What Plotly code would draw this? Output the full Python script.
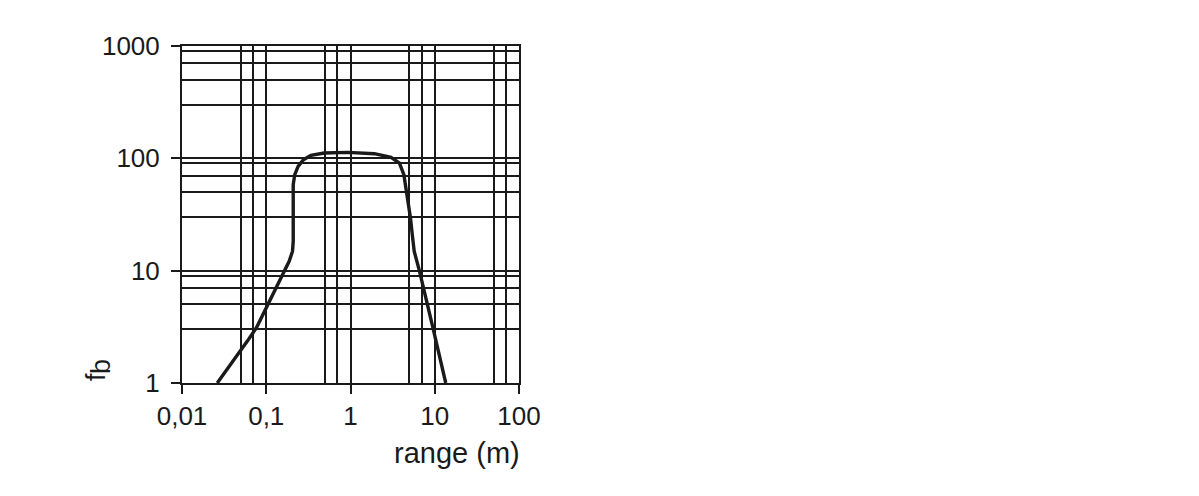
import plotly.graph_objects as go

# curve (range in m, f_b)
range_m = [0.0262, 0.0355, 0.0467, 0.0597, 0.0764, 0.0916, 0.110, 0.132, 0.158,
           0.187, 0.205, 0.209, 0.209, 0.218, 0.239, 0.277, 0.339, 0.488, 0.927,
           1.92, 3.03, 3.81, 4.30, 4.71, 5.15, 5.45, 5.7, 6.59, 8.07, 9.52, 13.5]
fb = [1, 1.37, 1.80, 2.36, 3.1, 4.08, 5.36, 7.03, 9.25,
      12.1, 14.9, 18.3, 58.4, 71.6, 84.9, 97.3, 106.4, 111.5, 113,
      110, 102, 90.8, 71.6, 47.6, 29.5, 20, 14.9, 9.9, 5.0, 3.1, 1]

x_ticks = [0.01, 0.1, 1, 10, 100]
x_ticktext = ["0,01", "0,1", "1", "10", "100"]
y_ticks = [1, 10, 100, 1000]
y_ticktext = ["1", "10", "100", "1000"]
x_minor = [0.05, 0.07, 0.5, 0.7, 5, 7, 50, 70]
y_minor = [3, 5, 7, 9, 30, 50, 70, 90, 300, 500, 700, 900]

ink = "#1a1a1a"
lw = 2

fig = go.Figure()
fig.add_trace(go.Scatter(x=range_m, y=fb, mode="lines",
                         line=dict(color=ink, width=3.4), showlegend=False))

fig.update_xaxes(type="log", range=[-2, 2],
                 tickvals=x_ticks, ticktext=x_ticktext,
                 ticks="outside", ticklen=9, tickwidth=lw, tickcolor=ink,
                 showgrid=True, gridcolor=ink, gridwidth=lw,
                 minor=dict(tickvals=x_minor, showgrid=True, gridcolor=ink,
                            gridwidth=lw, ticks=""),
                 showline=True, mirror=True, linecolor=ink, linewidth=lw,
                 zeroline=False)
fig.update_yaxes(type="log", range=[0, 3],
                 tickvals=y_ticks, ticktext=y_ticktext,
                 ticks="outside", ticklen=9, tickwidth=lw, tickcolor=ink,
                 ticklabelstandoff=6,
                 showgrid=True, gridcolor=ink, gridwidth=lw,
                 minor=dict(tickvals=y_minor, showgrid=True, gridcolor=ink,
                            gridwidth=lw, ticks=""),
                 showline=True, mirror=True, linecolor=ink, linewidth=lw,
                 zeroline=False)

fig.add_annotation(text="range (m)", xref="paper", yref="paper",
                   x=1.01, y=-0.208, xanchor="right", yanchor="middle",
                   showarrow=False, font=dict(size=29, color=ink))
# y title "f_b", rotated, subscript drawn as a second offset label
fig.add_annotation(text="f", xref="paper", yref="paper",
                   x=-0.257, y=0.019, xanchor="center", yanchor="middle",
                   textangle=-90, showarrow=False, font=dict(size=27, color=ink))
fig.add_annotation(text="b", xref="paper", yref="paper",
                   x=-0.239, y=0.049, xanchor="center", yanchor="middle",
                   textangle=-90, showarrow=False, font=dict(size=27, color=ink))

fig.update_layout(width=1199, height=496,
                  margin=dict(l=174, r=688, t=38, b=121),
                  paper_bgcolor="white", plot_bgcolor="white",
                  font=dict(family="Liberation Sans, Arial, sans-serif",
                            size=26, color=ink))

fig.write_html("out.html")
